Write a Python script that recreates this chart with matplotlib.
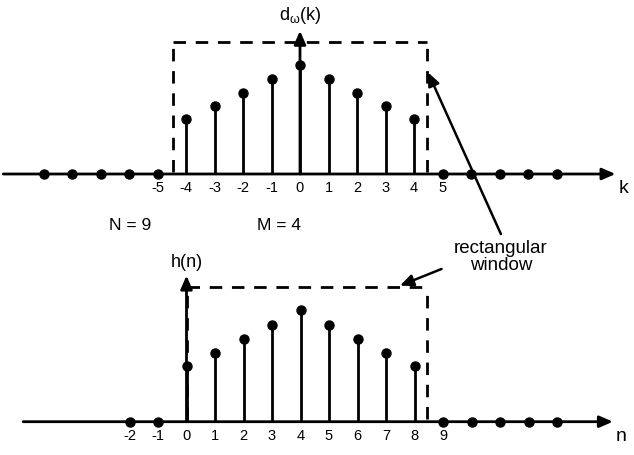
import matplotlib
matplotlib.use("Agg")
import matplotlib.pyplot as plt
import numpy as np

plt.rcParams['font.family'] = ['Liberation Sans', 'DejaVu Sans']
plt.rcParams['mathtext.fontset'] = 'custom'
plt.rcParams['mathtext.rm'] = 'Liberation Sans'
plt.rcParams['mathtext.it'] = 'Liberation Sans'

# ---- data ----
k_vals = [-9, -8, -7, -6, -5, -4, -3, -2, -1, 0, 1, 2, 3, 4, 5, 6, 7, 8, 9]
d_vals = [0, 0, 0, 0, 0, 0.50, 0.62, 0.745, 0.87, 1.0, 0.87, 0.745, 0.62, 0.50, 0, 0, 0, 0, 0]
k_ticks = [-5, -4, -3, -2, -1, 0, 1, 2, 3, 4, 5]

n_vals = [-2, -1, 0, 1, 2, 3, 4, 5, 6, 7, 8, 9, 10, 11, 12, 13]
h_vals = [0, 0, 0.50, 0.62, 0.745, 0.87, 1.0, 0.87, 0.745, 0.62, 0.50, 0, 0, 0, 0, 0]
n_ticks = [-2, -1, 0, 1, 2, 3, 4, 5, 6, 7, 8, 9]

win_top = [-4.45, 4.45]
win_bot = [0, 8.45]
win_h = 1.21

W, H = 634, 456
fig = plt.figure(figsize=(W / 100, H / 100), dpi=100)

ux = 28.5  # px per index unit

def make_ax(x0px, y0px, uy):
    ax = fig.add_axes([0, 0, 1, 1])
    ax.set_xlim(-x0px / ux, (W - x0px) / ux)
    ax.set_ylim(-(H - y0px) / uy, y0px / uy)
    ax.axis('off')
    return ax

axT = make_ax(300, 175, 109.3)
axB = make_ax(186.5, 422.7, 111.5)

arrow_kw = dict(arrowstyle='-|>,head_length=0.8,head_width=0.35', lw=2.0, color='black',
                shrinkA=0, shrinkB=0, mutation_scale=10)

def draw(ax, xs, ys, ticks, xstart, xend, ytip, xlabel, ylabel, win, ylab_y):
    # axes arrows
    ax.annotate('', xy=(xend, 0), xytext=(xstart, 0), arrowprops=arrow_kw)
    ax.annotate('', xy=(0, ytip), xytext=(0, 0), arrowprops=arrow_kw)
    # stems
    for x, y in zip(xs, ys):
        if y != 0:
            ax.vlines(x, 0, y, color='black', lw=2)
    ax.plot(xs, ys, 'o', color='black', ms=6.5, zorder=5)
    # window
    dash = dict(color='black', lw=2, dashes=(4.5, 3.5))
    ax.plot([win[0], win[1]], [win_h, win_h], **dash)
    ax.plot([win[0], win[0]], [0.02, win_h], **dash)
    ax.plot([win[1], win[1]], [0.02, win_h], **dash)
    for t in ticks:
        ax.text(t, -0.12, str(t), ha='center', va='center', fontsize=10.5)
    ax.text(xend + 0.3, -0.12, xlabel, ha='center', va='center', fontsize=14)
    ax.text(0, ylab_y, ylabel, ha='center', va='center', fontsize=13)

draw(axT, k_vals, d_vals, k_ticks, -10.41, 11.07, 1.31, 'k', r'd$_{\omega}$(k)', win_top, 1.46)
draw(axB, n_vals, h_vals, n_ticks, -5.73, 14.96, 1.31, 'n', 'h(n)', win_bot, 1.44)

axT.text(-5.96, -0.46, 'N = 9', ha='center', va='center', fontsize=12.5)
axT.text(-0.74, -0.46, 'M = 4', ha='center', va='center', fontsize=12.5)
axT.text(7.05, -0.75, 'rectangular\nwindow', ha='center', va='center', fontsize=13.5,
         linespacing=1.0)

arr2 = dict(arrowstyle='-|>,head_length=0.8,head_width=0.35', lw=1.8, color='black',
            shrinkA=0, shrinkB=0, mutation_scale=10)
axT.annotate('', xy=(4.49, 0.93), xytext=(7.05, -0.55), arrowprops=arr2)
axB.annotate('', xy=(7.49, 1.22), xytext=(8.95, 1.37), arrowprops=arr2)

fig.savefig('out.png', dpi=100)
